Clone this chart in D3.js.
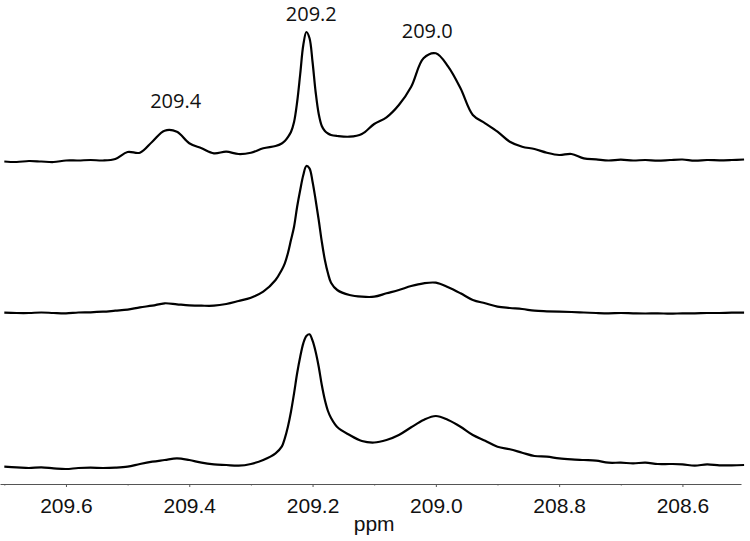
<!DOCTYPE html>
<html>
<head>
<meta charset="utf-8">
<script src="https://cdn.jsdelivr.net/npm/d3@7"></script>
<style>
  body { margin: 0; background: #fff; }
  svg { display: block; }
</style>
</head>
<body>
<div id="chart"></div>
<script>
// chemical shift grid (ppm), denser round the sharp 209.2 peak
var ppm = [
  209.70, 209.68, 209.66, 209.64, 209.62, 209.60, 209.58, 209.56, 209.54, 209.52,
  209.50, 209.48, 209.46, 209.44, 209.42, 209.40, 209.38, 209.36, 209.34, 209.32,
  209.30, 209.28, 209.26,
  209.25, 209.245, 209.24, 209.235, 209.23, 209.225, 209.22, 209.215, 209.21, 209.205,
  209.20, 209.195, 209.19, 209.185, 209.18, 209.175, 209.17,
  209.16, 209.14, 209.12, 209.10, 209.08, 209.06, 209.04, 209.02, 209.00, 208.98,
  208.96, 208.94, 208.92, 208.90, 208.88, 208.86, 208.84, 208.82, 208.80, 208.78,
  208.76, 208.74, 208.72, 208.70, 208.68, 208.66, 208.64, 208.62, 208.60, 208.58,
  208.56, 208.54, 208.52, 208.50
];

// intensities (arbitrary units), top to bottom
var specTop = [
  -1.5, -2, -1, -1.5, -2, -0.5, -0.5, 0, -0.5, 1,
  8, 7.3, 18.3, 29.3, 28.3, 16.7, 11.7, 6.7, 8.3, 6,
  7.3, 11.7, 14,
  16.5, 19, 23, 28, 38, 58, 86, 115, 128, 122,
  98, 68, 46, 34, 29, 26.5, 25,
  24, 23.3, 26, 36, 42.7, 55, 73.3, 101.7, 106.7, 93.3,
  71.7, 45, 36.7, 28.3, 18.3, 13.3, 11, 7.3, 5, 6,
  1.7, 0.7, -0.5, 0.3, -0.5, 0, -0.7, 0, 0.5, -0.7,
  0, -0.3, 0, 0.5
];
var specMid = [
  0.3, 0, 0, 0.5, 0, -0.3, 0.5, 0.7, 1.3, 2.3,
  3.3, 5.7, 7.3, 9.7, 8.7, 7.7, 7.3, 7.3, 9, 12,
  15.3, 21.3, 33,
  43, 49.7, 59.7, 73, 86.3, 106.3, 123, 138, 147, 144.7,
  131.3, 113, 93, 71.3, 53, 39.7, 30.3,
  23, 18, 16.3, 16.3, 19.7, 23, 27, 29.7, 30.3, 25.7,
  19.7, 13, 9.7, 6.3, 5, 4, 2.3, 1.7, 1.3, 1,
  0.5, 0, -0.3, 0, -0.3, -0.5, -0.3, -0.7, -0.3, -0.3,
  0, 0, 0.3, 0.3
];
var specBot = [
  0.3, -0.3, -1, -0.3, -1.3, -2, -1, -0.7, -1, -0.7,
  0.3, 3, 5.3, 7, 8.7, 7, 4.3, 2.7, 2, 1.3,
  3, 7, 13.7,
  20.3, 28.7, 40.3, 55.3, 73.7, 93.7, 110.3, 123.7, 131, 132.7,
  126.3, 115.3, 100.3, 82, 67, 56, 49,
  40, 32, 26, 24.5, 27, 32, 39.7, 47, 51, 47,
  40.3, 32, 26.3, 20.3, 17.7, 14.3, 11, 10.3, 8.7, 7.7,
  7, 6.3, 4.3, 4.3, 3.7, 4.3, 3, 3, 2.7, 1.3,
  2.7, 1.7, 1.7, 2
];

var spectra = [specTop, specMid, specBot];

var xTicks = [209.6, 209.4, 209.2, 209.0, 208.8, 208.6];
var xMinorTicks = [209.7, 209.5, 209.3, 209.1, 208.9, 208.7];

// peak labels on the top spectrum
var peakLabels = ["209.4", "209.2", "209.0"];
var peakLabelPpm = [209.422, 209.202, 209.014];
var peakLabelHeight = [52.3, 139.3, 122.3];

var width = 750, height = 541;
var baselines = [160, 313, 467]; // where each spectrum sits
var axisY = 484;

var svg = d3.select("#chart").append("svg")
    .attr("width", width)
    .attr("height", height);

var x = d3.scaleLinear()
    .domain([209.707, 208.505])
    .range([0, 741]);

var y = d3.scaleLinear()
    .domain([0, 150])
    .range([0, -150]);

var line = d3.line()
    .x(function(d, i) { return x(ppm[i]); })
    .y(function(d) { return y(d); })
    .curve(d3.curveCatmullRom.alpha(0.5));

spectra.forEach(function(spec, k) {
  svg.append("g")
      .attr("transform", "translate(0," + baselines[k] + ")")
    .append("path")
      .datum(spec)
      .attr("fill", "none")
      .attr("stroke", "#000")
      .attr("stroke-width", 2.2)
      .attr("stroke-linejoin", "round")
      .attr("d", line);
});

// labels over the top spectrum
svg.append("g")
    .attr("transform", "translate(0," + baselines[0] + ")")
  .selectAll("text")
  .data(peakLabels)
  .enter()
  .append("text")
    .attr("x", function(d, i) { return x(peakLabelPpm[i]); })
    .attr("y", function(d, i) { return y(peakLabelHeight[i]); })
    .attr("text-anchor", "middle")
    .style("font-family", "'Open Sans', 'Noto Sans', sans-serif")
    .style("font-size", "20px")
    .style("fill", "#111")
    .text(function(d) { return d; });

// x axis
var axis = svg.append("g")
    .attr("transform", "translate(0," + axisY + ")")
    .call(d3.axisBottom(x)
      .tickValues(xTicks)
      .tickFormat(d3.format(".1f"))
      .tickSize(3)
      .tickSizeOuter(0));

axis.select(".domain").attr("stroke", "#555");
axis.selectAll(".tick line").attr("stroke", "#555");
axis.selectAll(".tick text")
    .attr("y", 29)
    .attr("dy", 0)
    .style("font-family", "'Liberation Sans', Arial, sans-serif")
    .style("font-size", "21px")
    .style("fill", "#111");

axis.selectAll(".minor")
  .data(xMinorTicks)
  .enter()
  .append("line")
    .attr("class", "minor")
    .attr("x1", function(d) { return x(d) + 0.5; })
    .attr("x2", function(d) { return x(d) + 0.5; })
    .attr("y1", 0)
    .attr("y2", 1.5)
    .attr("stroke", "#555");

svg.append("text")
    .attr("x", x(209.1))
    .attr("y", 531)
    .attr("text-anchor", "middle")
    .style("font-family", "'Liberation Sans', Arial, sans-serif")
    .style("font-size", "21px")
    .style("fill", "#111")
    .text("ppm");
</script>
</body>
</html>
